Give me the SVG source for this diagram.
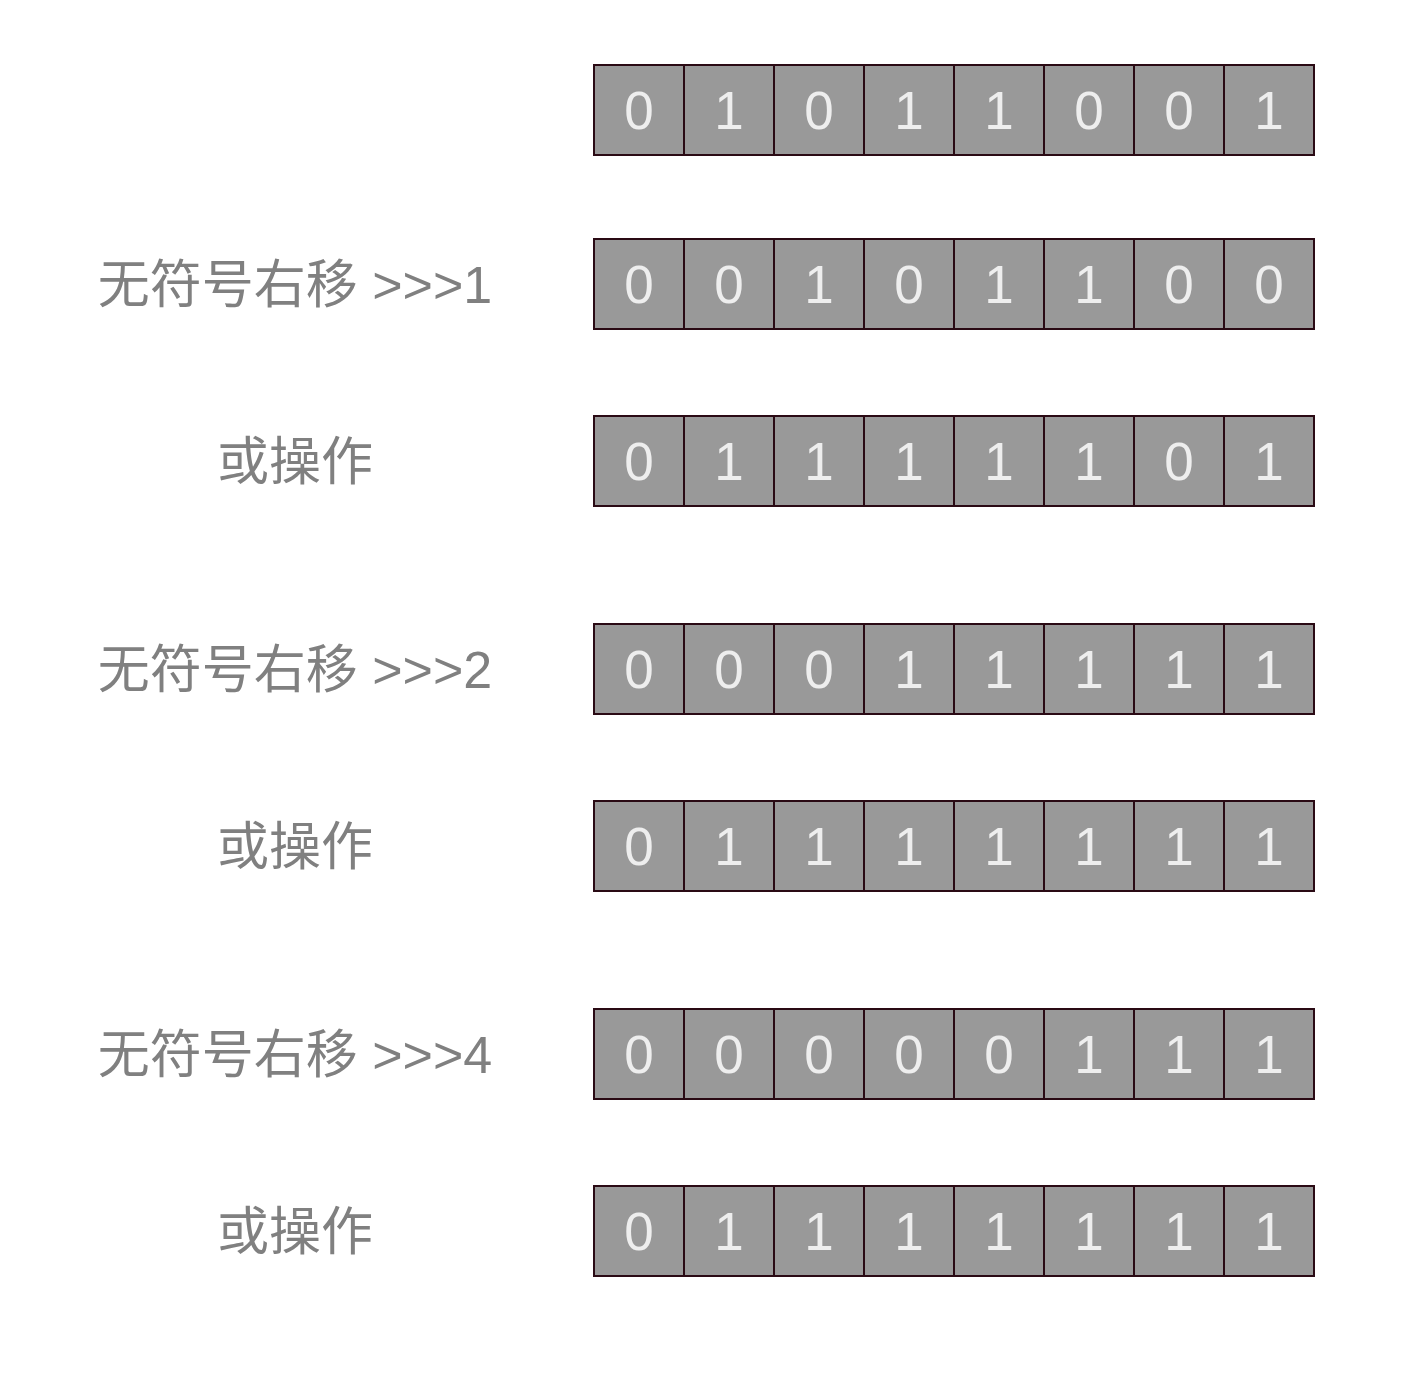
<svg xmlns="http://www.w3.org/2000/svg" width="1404" height="1386" viewBox="0 0 1404 1386">
<style>
.c{fill:#999999;stroke:#2a0a14;stroke-width:2}
.d{font-family:"Liberation Sans",Arial,sans-serif;font-size:53px;fill:#eeeeee;text-anchor:middle}
.l{font-family:"Liberation Sans","Noto Sans CJK SC",sans-serif;font-size:52px;fill:#808080;text-anchor:middle}
</style>
<rect width="1404" height="1386" fill="#ffffff"/>
<defs>
<g id="cells">
<rect class="c" x="594" y="0" width="90" height="90"/>
<rect class="c" x="684" y="0" width="90" height="90"/>
<rect class="c" x="774" y="0" width="90" height="90"/>
<rect class="c" x="864" y="0" width="90" height="90"/>
<rect class="c" x="954" y="0" width="90" height="90"/>
<rect class="c" x="1044" y="0" width="90" height="90"/>
<rect class="c" x="1134" y="0" width="90" height="90"/>
<rect class="c" x="1224" y="0" width="90" height="90"/>
</g>
</defs>
<g id="row1" transform="translate(0,65)">
<use href="#cells"/>
<g class="d"><text x="639" y="64">0</text><text x="729" y="64">1</text><text x="819" y="64">0</text><text x="909" y="64">1</text><text x="999" y="64">1</text><text x="1089" y="64">0</text><text x="1179" y="64">0</text><text x="1269" y="64">1</text></g>
</g>
<g id="row2" transform="translate(0,239)">
<text class="l" x="295" y="64">无符号右移 &gt;&gt;&gt;1</text>
<use href="#cells"/>
<g class="d"><text x="639" y="64">0</text><text x="729" y="64">0</text><text x="819" y="64">1</text><text x="909" y="64">0</text><text x="999" y="64">1</text><text x="1089" y="64">1</text><text x="1179" y="64">0</text><text x="1269" y="64">0</text></g>
</g>
<g id="row3" transform="translate(0,416)">
<text class="l" x="295" y="64">或操作</text>
<use href="#cells"/>
<g class="d"><text x="639" y="64">0</text><text x="729" y="64">1</text><text x="819" y="64">1</text><text x="909" y="64">1</text><text x="999" y="64">1</text><text x="1089" y="64">1</text><text x="1179" y="64">0</text><text x="1269" y="64">1</text></g>
</g>
<g id="row4" transform="translate(0,624)">
<text class="l" x="295" y="64">无符号右移 &gt;&gt;&gt;2</text>
<use href="#cells"/>
<g class="d"><text x="639" y="64">0</text><text x="729" y="64">0</text><text x="819" y="64">0</text><text x="909" y="64">1</text><text x="999" y="64">1</text><text x="1089" y="64">1</text><text x="1179" y="64">1</text><text x="1269" y="64">1</text></g>
</g>
<g id="row5" transform="translate(0,801)">
<text class="l" x="295" y="64">或操作</text>
<use href="#cells"/>
<g class="d"><text x="639" y="64">0</text><text x="729" y="64">1</text><text x="819" y="64">1</text><text x="909" y="64">1</text><text x="999" y="64">1</text><text x="1089" y="64">1</text><text x="1179" y="64">1</text><text x="1269" y="64">1</text></g>
</g>
<g id="row6" transform="translate(0,1009)">
<text class="l" x="295" y="64">无符号右移 &gt;&gt;&gt;4</text>
<use href="#cells"/>
<g class="d"><text x="639" y="64">0</text><text x="729" y="64">0</text><text x="819" y="64">0</text><text x="909" y="64">0</text><text x="999" y="64">0</text><text x="1089" y="64">1</text><text x="1179" y="64">1</text><text x="1269" y="64">1</text></g>
</g>
<g id="row7" transform="translate(0,1186)">
<text class="l" x="295" y="64">或操作</text>
<use href="#cells"/>
<g class="d"><text x="639" y="64">0</text><text x="729" y="64">1</text><text x="819" y="64">1</text><text x="909" y="64">1</text><text x="999" y="64">1</text><text x="1089" y="64">1</text><text x="1179" y="64">1</text><text x="1269" y="64">1</text></g>
</g>
<g id="connectors"/>
</svg>
